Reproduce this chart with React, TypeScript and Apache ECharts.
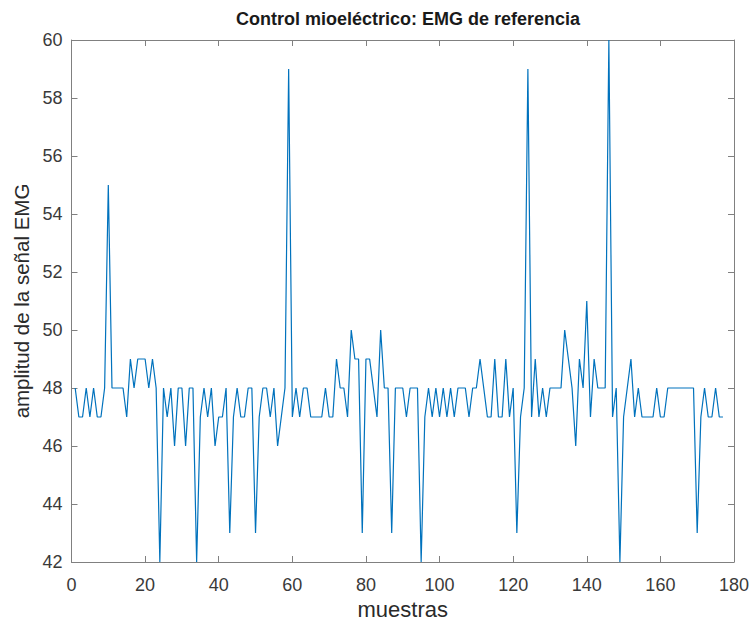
import React, { useEffect, useRef } from "react";
import * as echarts from "echarts";

const titleText = "Control mioeléctrico: EMG de referencia";
const xName = "muestras";
const yName = "amplitud de la señal EMG";

const emgValues: number[] = [
  48, 47, 47, 48, 47, 48, 47, 47, 48, 55,
  48, 48, 48, 48, 47, 49, 48, 49, 49, 49,
  48, 49, 48, 42, 48, 47, 48, 46, 48, 48,
  46, 48, 48, 42, 47, 48, 47, 48, 46, 47,
  47, 48, 43, 47, 48, 47, 47, 48, 48, 43,
  47, 48, 48, 47, 48, 46, 47, 48, 59, 47,
  48, 47, 48, 48, 47, 47, 47, 47, 48, 47,
  47, 49, 48, 48, 47, 50, 49, 49, 43, 49,
  49, 48, 47, 50, 48, 48, 43, 48, 48, 48,
  47, 48, 48, 48, 42, 47, 48, 47, 48, 47,
  48, 47, 48, 47, 48, 48, 48, 47, 48, 48,
  49, 48, 47, 47, 49, 47, 47, 49, 47, 48,
  43, 47, 48, 59, 47, 49, 47, 48, 47, 48,
  48, 48, 48, 50, 49, 48, 46, 49, 48, 51,
  47, 49, 48, 48, 48, 60, 47, 48, 42, 47,
  48, 49, 47, 48, 47, 47, 47, 47, 48, 47,
  47, 48, 48, 48, 48, 48, 48, 48, 48, 43,
  47, 48, 47, 47, 48, 47, 47,
];

const xMin = 0;
const xMax = 180;
const xStep = 20;
const yMin = 42;
const yMax = 60;
const yStep = 2;

export default function App() {
  const ref = useRef<HTMLDivElement>(null);
  useEffect(() => {
    if (!ref.current) return;
    const chart = echarts.init(ref.current, undefined, { renderer: "svg" });
    const data = emgValues.map((v, i) => [i + 1, v]);
    const axisColor = "#808080";
    const labelColor = "#3a3a3a";
    const font = "'Liberation Sans', Arial, Helvetica, sans-serif";
    const baseX = {
      type: "value" as const,
      min: xMin,
      max: xMax,
      interval: xStep,
      splitLine: { show: false },
      axisLine: { show: true, onZero: false, lineStyle: { color: axisColor, width: 1 } },
      axisTick: { show: true, inside: true, length: 6, lineStyle: { color: axisColor } },
    };
    const baseY = {
      type: "value" as const,
      min: yMin,
      max: yMax,
      interval: yStep,
      splitLine: { show: false },
      axisLine: { show: true, onZero: false, lineStyle: { color: axisColor, width: 1 } },
      axisTick: { show: true, inside: true, length: 6, lineStyle: { color: axisColor } },
    };
    chart.setOption({
      animation: false,
      backgroundColor: "#ffffff",
      textStyle: { fontFamily: font },
      title: {
        text: titleText,
        left: 403,
        top: 5,
        textAlign: "center",
        textStyle: { fontSize: 18, fontWeight: "bold", color: "#1a1a1a", fontFamily: font },
      },
      grid: { left: 71.5, right: 19, top: 40, bottom: 65 },
      xAxis: [
        {
          ...baseX,
          position: "bottom",
          name: xName,
          nameLocation: "middle",
          nameGap: 35,
          nameTextStyle: { fontSize: 22, color: "#2a2a2a", fontFamily: font },
          axisLabel: { show: true, margin: 14, fontSize: 18, color: labelColor, fontFamily: font },
        },
        {
          ...baseX,
          position: "top",
          axisLabel: { show: false },
        },
      ],
      yAxis: [
        {
          ...baseY,
          position: "left",
          name: yName,
          nameLocation: "middle",
          nameGap: 39,
          nameTextStyle: { fontSize: 20.5, color: "#2a2a2a", fontFamily: font },
          axisLabel: { show: true, margin: 9, fontSize: 18, color: labelColor, fontFamily: font },
        },
        {
          ...baseY,
          position: "right",
          axisLabel: { show: false },
        },
      ],
      series: [
        {
          type: "line",
          data,
          xAxisIndex: 0,
          yAxisIndex: 0,
          showSymbol: false,
          symbol: "none",
          lineStyle: { color: "#0072BD", width: 1.2 },
          clip: true,
        },
      ],
    });
    return () => chart.dispose();
  }, []);
  return (
    <div
      ref={ref}
      style={{ position: "fixed", left: 0, top: 0, width: 753, height: 627, background: "#fff" }}
    />
  );
}
